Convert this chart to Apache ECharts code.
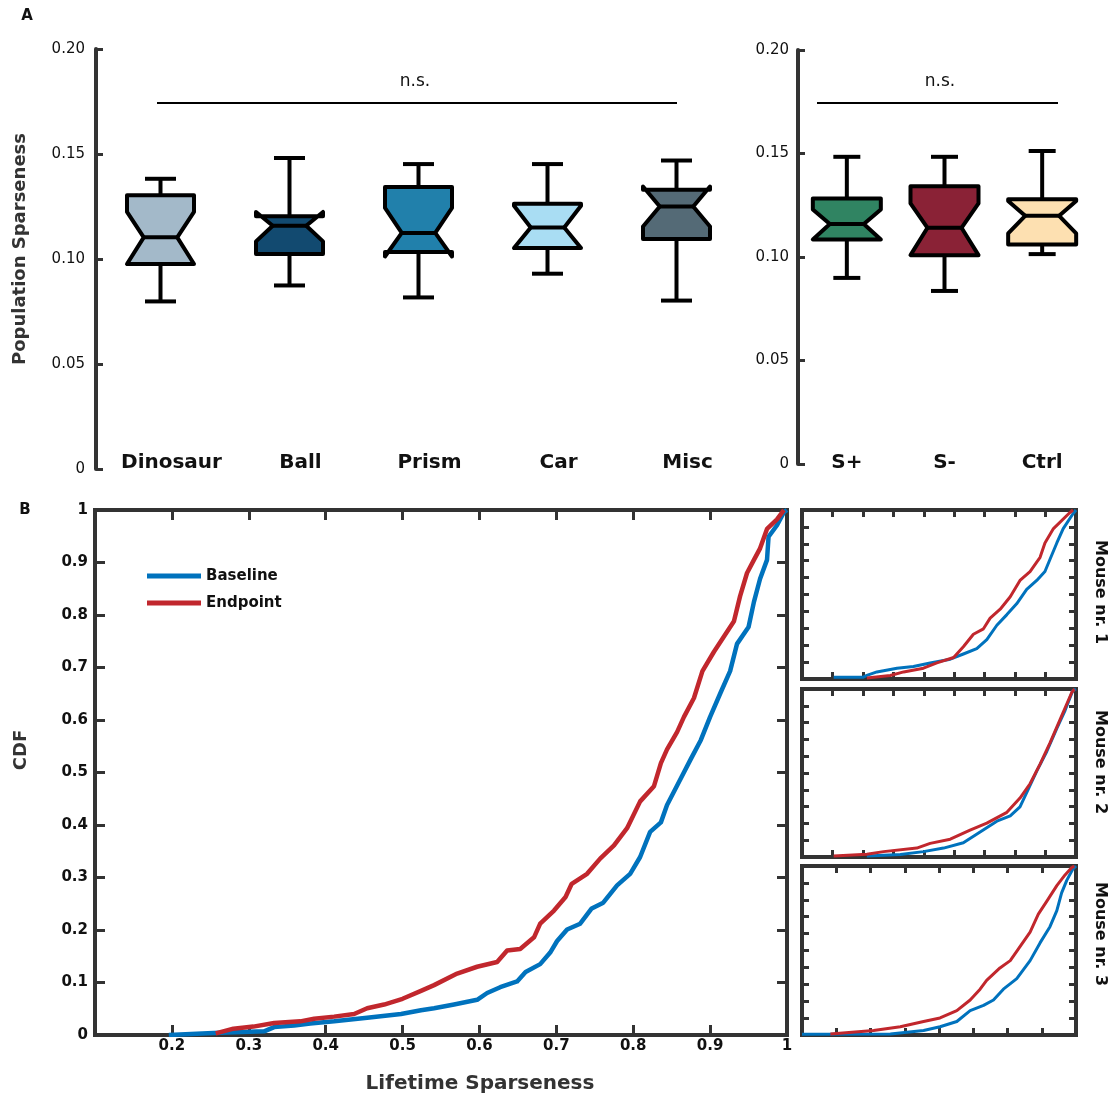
<!DOCTYPE html>
<html>
<head>
<meta charset="utf-8">
<title>Sparseness</title>
<script src="https://cdn.jsdelivr.net/npm/echarts@6.0.0/dist/echarts.min.js"></script>
<style>
  body { margin: 0; background: #fff; }
  #main { width: 1114px; height: 1097px; }
</style>
</head>
<body>
<div id="main"></div>
<script>
// panel A - notched boxes, each row: [min, q1, median, q3, max, notchLow, notchHigh]
var objectCats = ['Dinosaur', 'Ball', 'Prism', 'Car', 'Misc'];
var objectStats = [
	[0.0798, 0.0976, 0.1103, 0.1303, 0.1382, 0.0976, 0.1224],
	[0.0874, 0.1024, 0.1158, 0.1203, 0.1481, 0.1084, 0.1224],
	[0.0817, 0.1033, 0.1124, 0.1343, 0.1452, 0.1012, 0.1243],
	[0.0930, 0.1052, 0.1150, 0.1263, 0.1452, 0.1052, 0.1254],
	[0.0802, 0.1095, 0.1250, 0.1330, 0.1469, 0.1155, 0.1345]
];
var stimCats = ['S+', 'S-', 'Ctrl'];
var stimStats = [
	[0.0899, 0.1085, 0.1159, 0.1283, 0.1484, 0.1085, 0.1230],
	[0.0836, 0.1009, 0.1141, 0.1342, 0.1484, 0.1009, 0.1259],
	[0.1014, 0.1060, 0.1199, 0.1279, 0.1512, 0.1114, 0.1270]
];

// panel B - lifetime sparseness CDF, [x, cdf]
var baselineAll = [[0.196,0],[0.254,0.004],[0.320,0.007],[0.333,0.015],[0.359,0.018],[0.380,0.022],[0.411,0.026],[0.454,0.033],[0.498,0.040],[0.524,0.047],[0.541,0.051],[0.567,0.058],[0.597,0.067],[0.610,0.080],[0.627,0.091],[0.649,0.102],[0.660,0.120],[0.679,0.135],[0.692,0.157],[0.701,0.179],[0.714,0.201],[0.731,0.212],[0.746,0.241],[0.761,0.252],[0.779,0.285],[0.796,0.307],[0.809,0.339],[0.822,0.387],[0.836,0.405],[0.844,0.438],[0.862,0.489],[0.875,0.526],[0.888,0.562],[0.900,0.606],[0.913,0.650],[0.926,0.693],[0.935,0.745],[0.950,0.777],[0.957,0.825],[0.965,0.869],[0.974,0.905],[0.976,0.949],[0.987,0.971],[0.996,0.996],[1.0,1.0]];
var endpointAll = [[0.257,0.003],[0.280,0.012],[0.306,0.016],[0.333,0.023],[0.367,0.026],[0.385,0.031],[0.411,0.035],[0.437,0.040],[0.454,0.051],[0.476,0.058],[0.500,0.069],[0.524,0.084],[0.541,0.095],[0.571,0.117],[0.597,0.130],[0.623,0.139],[0.636,0.161],[0.653,0.164],[0.671,0.186],[0.679,0.212],[0.697,0.237],[0.712,0.263],[0.720,0.288],[0.740,0.307],[0.757,0.336],[0.775,0.361],[0.792,0.394],[0.809,0.445],[0.827,0.474],[0.836,0.518],[0.844,0.544],[0.857,0.577],[0.866,0.606],[0.879,0.642],[0.890,0.693],[0.905,0.730],[0.918,0.759],[0.931,0.788],[0.939,0.836],[0.948,0.880],[0.957,0.905],[0.965,0.927],[0.974,0.964],[0.987,0.982],[0.996,1.0]];

var baselineM1 = [[0.204,0.01],[0.300,0.01],[0.313,0.021],[0.346,0.042],[0.412,0.064],[0.466,0.074],[0.521,0.095],[0.587,0.117],[0.630,0.148],[0.674,0.180],[0.707,0.233],[0.740,0.318],[0.773,0.381],[0.805,0.445],[0.838,0.530],[0.871,0.583],[0.898,0.636],[0.915,0.710],[0.937,0.805],[0.958,0.890],[0.989,0.975],[1.0,1.0]];
var endpointM1 = [[0.313,0.006],[0.390,0.021],[0.434,0.042],[0.499,0.064],[0.543,0.095],[0.598,0.127],[0.630,0.191],[0.663,0.265],[0.696,0.297],[0.718,0.360],[0.751,0.413],[0.784,0.487],[0.816,0.583],[0.849,0.636],[0.882,0.720],[0.898,0.805],[0.926,0.890],[0.980,0.985],[0.990,1.0]];
var baselineM2 = [[0.313,0.006],[0.423,0.015],[0.499,0.032],[0.565,0.053],[0.630,0.085],[0.685,0.149],[0.740,0.213],[0.784,0.245],[0.816,0.298],[0.838,0.383],[0.871,0.511],[0.904,0.628],[0.937,0.766],[0.964,0.872],[0.989,0.989],[1.0,1.0]];
var endpointM2 = [[0.204,0.006],[0.313,0.017],[0.368,0.032],[0.477,0.053],[0.521,0.081],[0.587,0.106],[0.652,0.160],[0.707,0.202],[0.773,0.266],[0.816,0.351],[0.849,0.436],[0.882,0.553],[0.915,0.681],[0.948,0.819],[0.986,0.979],[0.995,1.0]];
var baselineM3 = [[0.200,0.004],[0.458,0.006],[0.458,0.013],[0.555,0.027],[0.603,0.049],[0.652,0.080],[0.691,0.144],[0.730,0.175],[0.759,0.207],[0.788,0.271],[0.827,0.334],[0.866,0.440],[0.895,0.545],[0.924,0.641],[0.944,0.736],[0.958,0.841],[0.973,0.915],[0.990,0.979],[1.0,1.0]];
var endpointM3 = [[0.283,0.006],[0.409,0.027],[0.487,0.049],[0.555,0.080],[0.603,0.101],[0.652,0.144],[0.691,0.207],[0.720,0.271],[0.739,0.323],[0.778,0.397],[0.808,0.440],[0.837,0.524],[0.866,0.609],[0.890,0.715],[0.914,0.789],[0.944,0.884],[0.968,0.947],[0.987,0.989],[0.995,1.0]];

var FONT = 'DejaVu Sans';
var AXIS = '#333';
var BLUE = '#0072BD';
var RED = '#C1272D';
var objectFills = ['#a3b9c9', '#124a70', '#2180ab', '#a9ddf3', '#546a76'];
var stimFills = ['#308462', '#8a2236', '#fde0b1'];

// notched box like matlab boxplot('notch','on')
function notchBox(boxWidth, capHalf, fills) {
	return function (params, api) {
		var i = api.value(0);
		var y = function (k) { return api.coord([i, api.value(k)])[1]; };
		var cx = api.coord([i, 0])[0];
		var yMin = y(1), yQ1 = y(2), yMed = y(3), yQ3 = y(4), yMax = y(5), yNL = y(6), yNH = y(7);
		var L = cx - boxWidth / 2, R = cx + boxWidth / 2, dent = boxWidth / 4;
		var seg = function (x1, y1, x2, y2) {
			return { type: 'line', shape: { x1: x1, y1: y1, x2: x2, y2: y2 }, style: { stroke: '#000', lineWidth: 4 } };
		};
		return {
			type: 'group',
			children: [
				seg(cx, yQ3, cx, yMax), seg(cx - capHalf, yMax, cx + capHalf, yMax),
				seg(cx, yQ1, cx, yMin), seg(cx - capHalf, yMin, cx + capHalf, yMin),
				{
					type: 'polygon',
					shape: { points: [[L, yQ3], [L, yNH], [L + dent, yMed], [L, yNL], [L, yQ1],
						[R, yQ1], [R, yNL], [R - dent, yMed], [R, yNH], [R, yQ3]] },
					style: { fill: fills[i], stroke: '#000', lineWidth: 4, lineJoin: 'round' }
				},
				seg(L + dent, yMed, R - dent, yMed)
			]
		};
	};
}

function boxRows(stats) {
	return stats.map(function (s, i) { return [i].concat(s); });
}

function sparseAxis(grid, margin) {
	return {
		type: 'value', gridIndex: grid, min: 0, max: 0.2, interval: 0.05,
		axisLine: { show: true, lineStyle: { color: AXIS, width: 4 } },
		axisTick: { show: true, inside: true, length: 7, lineStyle: { color: AXIS, width: 3 } },
		splitLine: { show: false },
		axisLabel: {
			margin: margin, fontFamily: FONT, fontSize: 15, color: '#111',
			formatter: function (v) { return v === 0 ? '0' : v.toFixed(2); }
		}
	};
}

function catAxis(grid, cats, margin, pad) {
	return {
		type: 'category', gridIndex: grid, data: cats,
		axisLine: { show: false }, axisTick: { show: false },
		axisLabel: { interval: 0, margin: margin, padding: pad, fontFamily: FONT, fontSize: 20, fontWeight: 'bold', color: '#111' }
	};
}

// one framed cdf panel: bottom/top x axes, left/right y axes
function frameX(grid, xmin, pos, labels, tickLen) {
	return {
		type: 'value', gridIndex: grid, position: pos, min: xmin, max: 1, interval: 0.1,
		axisLine: { show: false, onZero: false },
		axisTick: { show: true, inside: true, length: tickLen, lineStyle: { color: AXIS, width: 3 } },
		splitLine: { show: false },
		axisLabel: labels ? {
			margin: 4, fontFamily: FONT, fontSize: 15, fontWeight: 'bold', color: '#111',
			formatter: function (v) { return Math.abs(v - xmin) < 1e-6 ? '' : String(+v.toFixed(1)); }
		} : { show: false }
	};
}

function frameY(grid, pos, labels, tickLen) {
	return {
		type: 'value', gridIndex: grid, position: pos, min: 0, max: 1, interval: 0.1,
		axisLine: { show: false, onZero: false },
		axisTick: { show: true, inside: true, length: tickLen, lineStyle: { color: AXIS, width: 3 } },
		splitLine: { show: false },
		axisLabel: labels ? {
			margin: 7, fontFamily: FONT, fontSize: 15, fontWeight: 'bold', color: '#111',
			formatter: function (v) { return String(+v.toFixed(1)); }
		} : { show: false }
	};
}

function cdfLine(name, data, color, xi, yi, width) {
	return {
		name: name, type: 'line', xAxisIndex: xi, yAxisIndex: yi, data: data,
		symbol: 'none', showSymbol: false, z: 3,
		itemStyle: { color: color },
		lineStyle: { color: color, width: width, join: 'round' }
	};
}

var frame = { show: true, borderColor: AXIS, borderWidth: 4, backgroundColor: 'transparent' };

var myChart = echarts.init(document.getElementById('main'), null, { renderer: 'canvas' });

var option = {
	animation: false,
	backgroundColor: '#fff',
	grid: [
		{ left: 96, top: 49, width: 645, height: 420 },
		{ left: 798, top: 50, width: 293, height: 414 },
		Object.assign({ left: 95, top: 510, width: 692, height: 525 }, frame),
		Object.assign({ left: 802, top: 510, width: 274, height: 169 }, frame),
		Object.assign({ left: 802, top: 689, width: 274, height: 168 }, frame),
		Object.assign({ left: 802, top: 866, width: 274, height: 169 }, frame)
	],
	xAxis: [
		catAxis(0, objectCats, -16, [0, 0, 0, 22]),
		catAxis(1, stimCats, -11, 0),
		frameX(2, 0.1, 'bottom', true, 10), frameX(2, 0.1, 'top', false, 10),
		frameX(3, 0.1, 'bottom', false, 7), frameX(3, 0.1, 'top', false, 7),
		frameX(4, 0.1, 'bottom', false, 7), frameX(4, 0.1, 'top', false, 7),
		frameX(5, 0.2, 'bottom', false, 7), frameX(5, 0.2, 'top', false, 7)
	],
	yAxis: [
		sparseAxis(0, 11),
		sparseAxis(1, 9),
		frameY(2, 'left', true, 10), frameY(2, 'right', false, 10),
		frameY(3, 'left', false, 7), frameY(3, 'right', false, 7),
		frameY(4, 'left', false, 7), frameY(4, 'right', false, 7),
		frameY(5, 'left', false, 7), frameY(5, 'right', false, 7)
	],
	legend: {
		data: ['Baseline', 'Endpoint'], orient: 'vertical', left: 142, top: 562,
		icon: 'rect', itemWidth: 54, itemHeight: 5, itemGap: 9, selectedMode: false,
		textStyle: { fontFamily: FONT, fontWeight: 'bold', fontSize: 15, color: '#111', lineHeight: 18 }
	},
	series: [
		{
			type: 'custom', xAxisIndex: 0, yAxisIndex: 0, clip: false,
			renderItem: notchBox(67, 15.5, objectFills),
			encode: { x: 0, y: [1, 2, 3, 4, 5, 6, 7] },
			data: boxRows(objectStats)
		},
		{
			type: 'custom', xAxisIndex: 1, yAxisIndex: 1, clip: false,
			renderItem: notchBox(68, 13.5, stimFills),
			encode: { x: 0, y: [1, 2, 3, 4, 5, 6, 7] },
			data: boxRows(stimStats)
		},
		cdfLine('Baseline', baselineAll, BLUE, 2, 2, 4.5),
		cdfLine('Endpoint', endpointAll, RED, 2, 2, 4.5),
		cdfLine('Baseline', baselineM1, BLUE, 4, 4, 3),
		cdfLine('Endpoint', endpointM1, RED, 4, 4, 3),
		cdfLine('Baseline', baselineM2, BLUE, 6, 6, 3),
		cdfLine('Endpoint', endpointM2, RED, 6, 6, 3),
		cdfLine('Baseline', baselineM3, BLUE, 8, 8, 3),
		cdfLine('Endpoint', endpointM3, RED, 8, 8, 3)
	],
	graphic: [
		{ type: 'text', x: 27, y: 16, style: { text: 'A', font: 'bold 15px "DejaVu Sans"', fill: '#111', align: 'center', verticalAlign: 'middle' } },
		{ type: 'text', x: 25, y: 510, style: { text: 'B', font: 'bold 15px "DejaVu Sans"', fill: '#111', align: 'center', verticalAlign: 'middle' } },
		// n.s. brackets
		{ type: 'line', shape: { x1: 157, y1: 103, x2: 677, y2: 103 }, style: { stroke: '#000', lineWidth: 2 } },
		{ type: 'text', x: 415, y: 82, style: { text: 'n.s.', font: '17px "DejaVu Sans"', fill: '#111', align: 'center', verticalAlign: 'middle' } },
		{ type: 'line', shape: { x1: 817, y1: 103, x2: 1058, y2: 103 }, style: { stroke: '#000', lineWidth: 2 } },
		{ type: 'text', x: 940, y: 82, style: { text: 'n.s.', font: '17px "DejaVu Sans"', fill: '#111', align: 'center', verticalAlign: 'middle' } },
		// axis titles
		{ type: 'text', x: 20, y: 249, rotation: Math.PI / 2, style: { text: 'Population Sparseness', font: 'bold 18px "DejaVu Sans"', fill: '#333', align: 'center', verticalAlign: 'middle' } },
		{ type: 'text', x: 21, y: 750, rotation: Math.PI / 2, style: { text: 'CDF', font: 'bold 18px "DejaVu Sans"', fill: '#333', align: 'center', verticalAlign: 'middle' } },
		{ type: 'text', x: 480, y: 1084, style: { text: 'Lifetime Sparseness', font: 'bold 20px "DejaVu Sans"', fill: '#333', align: 'center', verticalAlign: 'middle' } },
		{ type: 'text', x: 1100, y: 592, rotation: -Math.PI / 2, style: { text: 'Mouse nr. 1', font: 'bold 16px "DejaVu Sans"', fill: '#111', align: 'center', verticalAlign: 'middle' } },
		{ type: 'text', x: 1100, y: 762, rotation: -Math.PI / 2, style: { text: 'Mouse nr. 2', font: 'bold 16px "DejaVu Sans"', fill: '#111', align: 'center', verticalAlign: 'middle' } },
		{ type: 'text', x: 1100, y: 934, rotation: -Math.PI / 2, style: { text: 'Mouse nr. 3', font: 'bold 16px "DejaVu Sans"', fill: '#111', align: 'center', verticalAlign: 'middle' } }
	]
};

myChart.setOption(option);
</script>
</body>
</html>
